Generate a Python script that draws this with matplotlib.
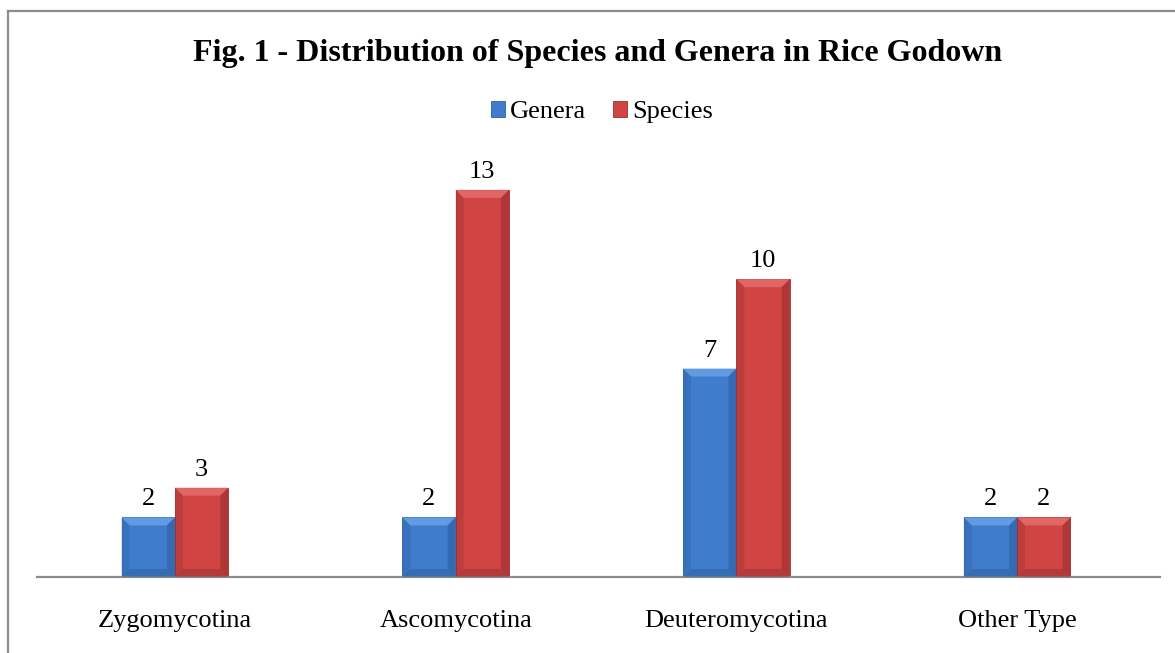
import matplotlib
matplotlib.use("Agg")
import matplotlib.pyplot as plt
from matplotlib.patches import Polygon
from matplotlib.lines import Line2D
import numpy as np

categories = ["Zygomycotina", "Ascomycotina", "Deuteromycotina", "Other Type"]
genera = [2, 2, 7, 2]
species = [3, 13, 10, 2]
series_names = ["Genera", "Species"]
title = "Fig. 1 - Distribution of Species and Genera in Rice Godown"

W, H = 1175, 653
fig = plt.figure(figsize=(W / 100, H / 100), dpi=100)
plt.rcParams['font.family'] = ['Liberation Serif', 'DejaVu Serif']

# frame
fig.add_artist(Line2D([8 / W, 8 / W], [0, 1 - 11 / H], transform=fig.transFigure, color="#8c8c8c", lw=1.6))
fig.add_artist(Line2D([8 / W, 1], [1 - 11 / H, 1 - 11 / H], transform=fig.transFigure, color="#8c8c8c", lw=1.6))

ax_l, ax_r = 37, 1160
ax_b, ax_t = 577, 160
ax = fig.add_axes([ax_l / W, 1 - ax_b / H, (ax_r - ax_l) / W, (ax_b - ax_t) / H])

x = np.arange(len(categories))
bw = 0.19
blue, red = "#3f7dcc", "#d04443"
b1 = ax.bar(x - bw / 2, genera, bw, color=blue, edgecolor="#2e5f9e", linewidth=0.6, label=series_names[0], zorder=2)
b2 = ax.bar(x + bw / 2, species, bw, color=red, edgecolor="#9e2e2e", linewidth=0.6, label=series_names[1], zorder=2)

shift = 2.5 / (ax_r - ax_l) * len(categories)
ax.set_xlim(-0.5 + shift, len(categories) - 0.5 + shift)
ax.set_ylim(0, 14)

# bevel overlays
px_x = (len(categories)) / (ax_r - ax_l)
px_y = 14 / (ax_b - ax_t)
bev = 8
for bars, light, dark in [(b1, "#6aa3ea", "#2d5e9f"), (b2, "#e57070", "#9c2f2f")]:
    for r in bars:
        x0, y0 = r.get_x(), r.get_y()
        w, h = r.get_width(), r.get_height()
        dx, dy = bev * px_x, bev * px_y
        top = Polygon([[x0, y0 + h], [x0 + w, y0 + h], [x0 + w - dx, y0 + h - dy], [x0 + dx, y0 + h - dy]],
                      closed=True, facecolor=light, edgecolor="none", alpha=0.8, zorder=3)
        left = Polygon([[x0, y0], [x0, y0 + h], [x0 + dx, y0 + h - dy], [x0 + dx, y0 + dy]],
                       closed=True, facecolor=dark, edgecolor="none", alpha=0.35, zorder=3)
        right = Polygon([[x0 + w, y0], [x0 + w, y0 + h], [x0 + w - dx, y0 + h - dy], [x0 + w - dx, y0 + dy]],
                        closed=True, facecolor=dark, edgecolor="none", alpha=0.6, zorder=3)
        bot = Polygon([[x0, y0], [x0 + w, y0], [x0 + w - dx, y0 + dy], [x0 + dx, y0 + dy]],
                      closed=True, facecolor=dark, edgecolor="none", alpha=0.5, zorder=3)
        for p in (top, left, right, bot):
            ax.add_patch(p)

ax.bar_label(b1, padding=5, fontsize=19)
ax.bar_label(b2, padding=5, fontsize=19)

for s in ["top", "right", "left"]:
    ax.spines[s].set_visible(False)
ax.spines["bottom"].set_color("#8c8c8c")
ax.spines["bottom"].set_linewidth(1.6)
ax.set_yticks([])
ax.set_xticks(x)
ax.set_xticklabels(categories, fontsize=19)
ax.tick_params(axis="x", length=0, pad=24)

fig.text(598 / W, 1 - 53 / H, title, ha="center", va="center", fontsize=23, fontweight="bold")

leg = fig.legend(handles=[b1, b2], labels=series_names, loc="center", bbox_to_anchor=(602 / W, 1 - 112 / H),
                 ncol=2, frameon=False, fontsize=19, handlelength=0.55, handleheight=0.55,
                 handletextpad=0.2, columnspacing=1.0)

fig.savefig("out.png", dpi=100)
